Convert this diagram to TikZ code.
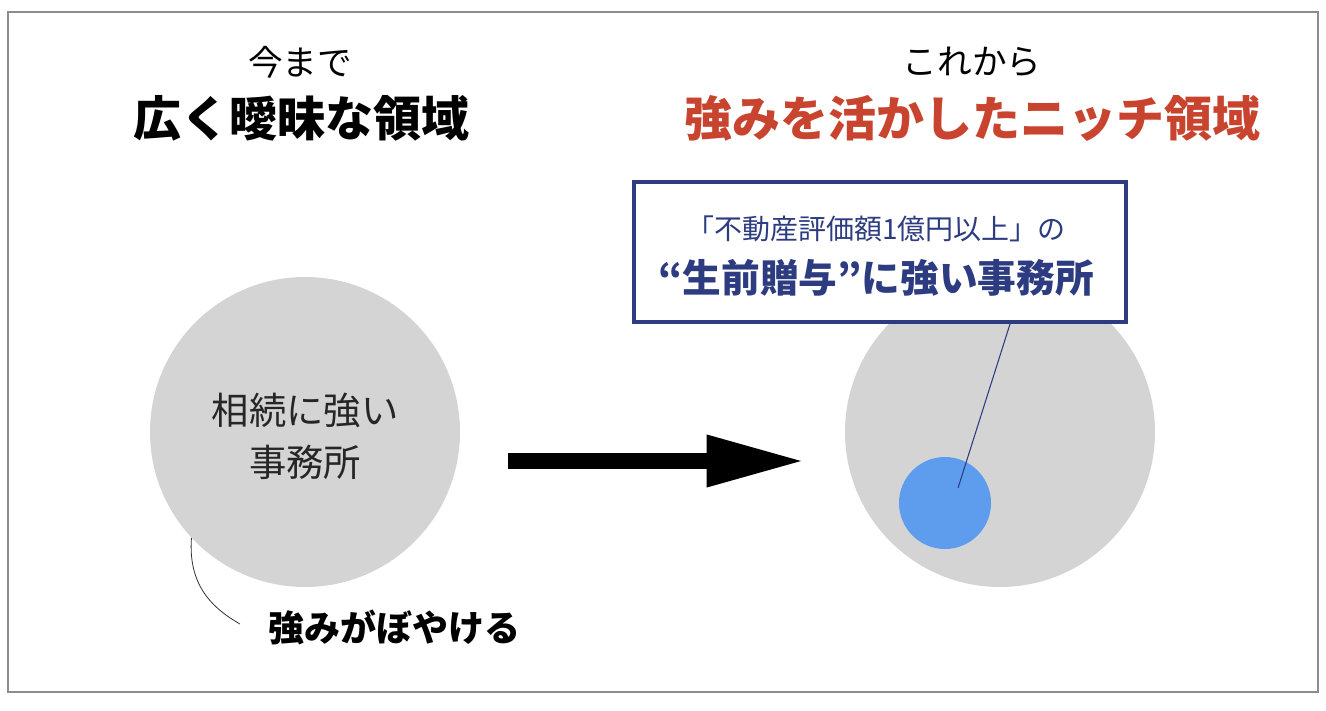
\documentclass[tikz,border=0pt]{standalone}
\usepackage{fontspec}
\setmainfont{Noto Sans CJK JP}
\usetikzlibrary{arrows.meta,calc}
\definecolor{titlered}{HTML}{C8442E}
\definecolor{navy}{HTML}{2D3C80}
\definecolor{circgray}{HTML}{D4D4D4}
\definecolor{nichblue}{HTML}{5E9CEE}
\newcommand{\fs}[1]{\fontsize{#1pt}{#1pt}\selectfont}
\tikzset{
  area/.style={circle, fill=circgray, minimum size=232.5pt, inner sep=0pt},
  small/.style={font=\fs{26}},
  headline/.style={font=\fs{36}\bfseries},
  bigarrow/.style={line width=12pt, -{Triangle[length=74pt,width=36pt]}},
}
\begin{document}
\begin{tikzpicture}[x=0.75pt, y=-0.75pt]
    \useasboundingbox (0,0) rectangle (1326,710);
    % 外框
    \draw[gray!90, line width=1.2pt] (8,12) rectangle (1318,692);

    % 左侧：今まで
    \node[small] (nowlab) at (300,62) {今まで};
    \node[headline] (nowhead) at (301,118) {広く曖昧な領域};
    \node[area] (leftc) at (305,432) {};
    \node[font=\fontsize{28pt}{39pt}\selectfont, align=center, text=black!85] (lefttxt) at (305,436) {相続に強い\\事務所};

    % 注释曲线
    \node[font=\fs{27}\bfseries, anchor=west] (weak) at (264,627) {強みがぼやける};
    \coordinate (weakend) at (240,624);
    \draw[black!80, line width=0.6pt] (leftc.223) .. controls (188,585) and (212,608) .. (weakend);

    % 箭头
    \draw[bigarrow] ($(leftc.east)+(48,29)$) -- ($(leftc.east)+(345,29)$);

    % 右侧：これから
    \node[small] (futlab) at (972,62) {これから};
    \node[headline, text=titlered] (futhead) at (972,118) {強みを活かしたニッチ領域};
    \node[area] (rightc) at (1000,432) {};
    \node[circle, fill=nichblue, minimum size=69pt, inner sep=0pt] (niche) at (945,503) {};

    % 说明框
    \node[draw=navy, line width=3pt, fill=white, minimum width=369pt, minimum height=105pt,
          align=center, text=navy, inner sep=0pt] (callout) at (880,252) {};
    \node[align=center, text=navy, inner sep=0pt] (callouttxt) at (876,256)
          {{\fs{21}「不動産評価額1億円以上」の}\\[12pt]{\fs{29}\bfseries “生前贈与”に強い事務所}};
    \coordinate (nichept) at (958,488);
    \draw[navy, line width=0.8pt] (nichept) -- (callout.south -| 1010,0);
\end{tikzpicture}
\end{document}
